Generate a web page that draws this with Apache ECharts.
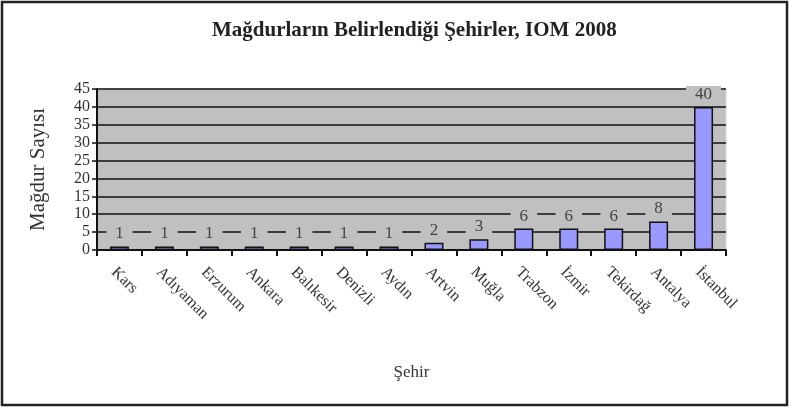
<!DOCTYPE html>
<html>
<head>
<meta charset="utf-8">
<script src="https://cdn.jsdelivr.net/npm/echarts@6/dist/echarts.min.js"></script>
<style>
  html, body { margin: 0; padding: 0; background: #fff; }
  #chart { width: 790px; height: 410px; }
</style>
</head>
<body>
<div id="chart"></div>
<script>
// veriler
var cities = ['Kars', 'Adıyaman', 'Erzurum', 'Ankara', 'Balıkesir', 'Denizli', 'Aydın', 'Artvin', 'Muğla', 'Trabzon', 'İzmir', 'Tekirdağ', 'Antalya', 'İstanbul']
var victims = [1, 1, 1, 1, 1, 1, 1, 2, 3, 6, 6, 6, 8, 40]
var yMax = 45
var yStep = 5

var serif = '"Liberation Serif", "DejaVu Serif", serif'

var chart = echarts.init(document.getElementById('chart'))
var option = {
  animation: false,
  title: {
    text: 'Mağdurların Belirlendiği Şehirler, IOM 2008',
    left: 207,
    top: 15,
    textStyle: {
      fontFamily: serif,
      fontSize: 21,
      fontWeight: 'bold',
      color: '#222'
    }
  },
  graphic: [
    {
      type: 'rect',
      shape: { x: 2, y: 2, width: 785, height: 403 },
      style: { fill: null, stroke: '#222', lineWidth: 2.5 },
      silent: true
    }
  ],
  grid: {
    left: 97,
    right: 64,
    top: 89,
    bottom: 160,
    show: true,
    backgroundColor: '#c0c0c0',
    borderColor: '#d8d8d8',
    borderWidth: 1
  },
  xAxis: {
    type: 'category',
    data: cities,
    name: 'Şehir',
    nameLocation: 'middle',
    nameGap: 114,
    nameTextStyle: { fontFamily: serif, fontSize: 17, color: '#333' },
    axisLine: { lineStyle: { color: '#111', width: 2 } },
    axisTick: { show: true, length: 6, lineStyle: { color: '#111', width: 2 } },
    axisLabel: {
      rotate: -45,
      interval: 0,
      margin: 14,
      verticalAlign: 'top',
      fontFamily: serif,
      fontSize: 16,
      color: '#333'
    }
  },
  yAxis: {
    type: 'value',
    min: 0,
    max: yMax,
    interval: yStep,
    name: 'Mağdur Sayısı',
    nameLocation: 'middle',
    nameGap: 48,
    nameRotate: 90,
    nameTextStyle: { fontFamily: serif, fontSize: 21, color: '#333' },
    axisLine: { show: true, lineStyle: { color: '#111', width: 2 } },
    axisTick: { show: true, length: 5, lineStyle: { color: '#111', width: 1.5 } },
    axisLabel: { fontFamily: serif, fontSize: 16, color: '#333', margin: 7 },
    splitLine: { lineStyle: { color: '#111', width: 1.5 } }
  },
  series: [
    {
      type: 'bar',
      data: victims,
      barWidth: 19,
      itemStyle: {
        color: '#9999ff',
        borderColor: '#111',
        borderWidth: 1.5
      },
      label: {
        show: true,
        position: 'top',
        distance: 4,
        fontFamily: serif,
        fontSize: 17,
        color: '#444',
        backgroundColor: '#c0c0c0',
        padding: [0, 9]
      }
    }
  ]
}
chart.setOption(option)
</script>
</body>
</html>
